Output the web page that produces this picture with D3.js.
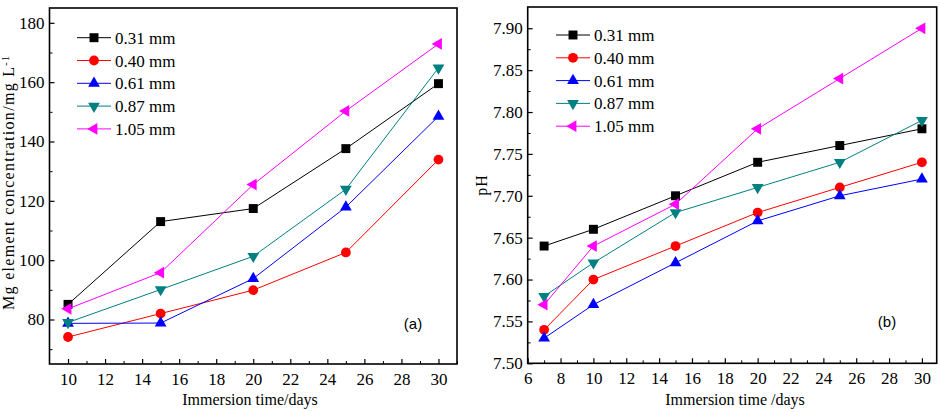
<!DOCTYPE html>
<html lang="en">
<meta charset="utf-8">
<head>
    <script src="https://d3js.org/d3.v7.min.js"></script>
</head>
<body style="margin:0; background:#fff;">
<svg width="940" height="412"></svg>
</body>

<script>
// legend labels / series names
var sizes = ["0.31 mm", "0.40 mm", "0.61 mm", "0.87 mm", "1.05 mm"];
var colors = ["#000000", "#ff0000", "#0000ff", "#008080", "#ff00ff"];

// panel (a) : Mg concentration
var daysA = [10, 15, 20, 25, 30];
var mg031 = [85.1, 113.0, 117.4, 137.6, 159.5];
var mg040 = [74.1, 82.0, 89.9, 102.6, 133.9];
var mg061 = [78.7, 78.8, 93.8, 117.9, 148.5];
var mg087 = [79.0, 90.1, 101.3, 123.9, 164.8];
var mg105 = [83.6, 95.8, 125.5, 150.3, 172.9];
var xTicksA = [10, 12, 14, 16, 18, 20, 22, 24, 26, 28, 30];
var yTicksA = [80, 100, 120, 140, 160, 180];

// panel (b) : pH
var daysB = [7, 10, 15, 20, 25, 30];
var ph031 = [7.64, 7.66, 7.70, 7.74, 7.76, 7.78];
var ph040 = [7.54, 7.60, 7.64, 7.68, 7.71, 7.74];
var ph061 = [7.53, 7.57, 7.62, 7.67, 7.70, 7.72];
var ph087 = [7.58, 7.62, 7.68, 7.71, 7.74, 7.79];
var ph105 = [7.57, 7.64, 7.69, 7.78, 7.84, 7.90];
var xTicksB = [6, 8, 10, 12, 14, 16, 18, 20, 22, 24, 26, 28, 30];
var yTicksB = [7.50, 7.55, 7.60, 7.65, 7.70, 7.75, 7.80, 7.85, 7.90];

var svg = d3.select("svg");
var serif = "'Liberation Serif', 'Times New Roman', serif";

// marker shapes for each series
var shapes = [
    { type: d3.symbolSquare, size: 80, rot: 0 },
    { type: d3.symbolCircle, size: 75, rot: 0 },
    { type: d3.symbolTriangle, size: 60, rot: 0 },
    { type: d3.symbolTriangle, size: 60, rot: 180 },
    { type: d3.symbolTriangle, size: 60, rot: -90 }
];

function marker(g, i, cx, cy) {
    g.append("path")
        .attr("d", d3.symbol().type(shapes[i].type).size(shapes[i].size)())
        .attr("transform", "translate(" + cx + "," + cy + ") rotate(" + shapes[i].rot + ")")
        .attr("fill", colors[i]);
}

function drawPanel(p) {
    var x = d3.scaleLinear().domain(p.xDomain).range([p.left, p.right]);
    var y = d3.scaleLinear().domain(p.yDomain).range([p.bottom, p.top]);
    var g = svg.append("g");

    // minor ticks
    g.append("g")
        .attr("transform", "translate(0," + p.bottom + ")")
        .call(d3.axisBottom(x).tickValues(p.xMinor).tickSize(-3).tickSizeOuter(0).tickFormat(""))
        .call(function(a) { a.select(".domain").remove(); });
    g.append("g")
        .attr("transform", "translate(" + p.left + ",0)")
        .call(d3.axisLeft(y).tickValues(p.yMinor).tickSize(-3).tickSizeOuter(0).tickFormat(""))
        .call(function(a) { a.select(".domain").remove(); });

    // major ticks + labels
    var xa = g.append("g")
        .attr("transform", "translate(0," + p.bottom + ")")
        .call(d3.axisBottom(x).tickValues(p.xTicks).tickSize(-5).tickSizeOuter(0).tickPadding(9));
    var ya = g.append("g")
        .attr("transform", "translate(" + p.left + ",0)")
        .call(d3.axisLeft(y).tickValues(p.yTicks).tickSize(-5).tickSizeOuter(0).tickPadding(5)
            .tickFormat(p.yFormat));
    [xa, ya].forEach(function(a) {
        a.select(".domain").remove();
        a.selectAll("line").attr("stroke", "#000").attr("stroke-width", 1.2);
        a.selectAll("text").attr("font-family", serif).attr("font-size", "17px").attr("fill", "#000");
    });

    // frame
    g.append("rect")
        .attr("x", p.left).attr("y", p.top)
        .attr("width", p.right - p.left).attr("height", p.bottom - p.top)
        .attr("fill", "none").attr("stroke", "#000").attr("stroke-width", 1.6);

    // series
    var line = d3.line().x(function(d) { return x(d[0]); }).y(function(d) { return y(d[1]); });
    p.series.forEach(function(vals, i) {
        var pts = p.days.map(function(d, j) { return [d, vals[j]]; });
        g.append("path").datum(pts)
            .attr("d", line)
            .attr("fill", "none")
            .attr("stroke", colors[i])
            .attr("stroke-width", 1);
        pts.forEach(function(d) { marker(g, i, x(d[0]), y(d[1])); });
    });

    // legend
    sizes.forEach(function(s, i) {
        var ly = p.legY + i * 22.8;
        g.append("line")
            .attr("x1", p.legX).attr("x2", p.legX + 34)
            .attr("y1", ly).attr("y2", ly)
            .attr("stroke", colors[i]).attr("stroke-width", 1);
        marker(g, i, p.legX + 17, ly);
        g.append("text")
            .attr("x", p.legX + 38).attr("y", ly + 6)
            .attr("font-family", serif).attr("font-size", "17px")
            .text(s);
    });

    // panel tag
    g.append("text")
        .attr("x", p.tagX).attr("y", p.tagY)
        .attr("text-anchor", "middle")
        .attr("font-family", "'Liberation Sans', Arial, sans-serif")
        .attr("font-size", "15px")
        .text(p.tag);

    // x title
    g.append("text")
        .attr("x", p.xTitleX).attr("y", 405)
        .attr("text-anchor", "middle")
        .attr("font-family", serif).attr("font-size", "16px")
        .text(p.xTitle);
}

var oddA = [];
for (var k = 11; k <= 31; k += 2) oddA.push(k);
var oddB = [];
for (var k2 = 7; k2 <= 29; k2 += 2) oddB.push(k2);

drawPanel({
    left: 49.5, right: 457, top: 8, bottom: 364,
    xDomain: [9, 31], yDomain: [65, 185],
    xTicks: xTicksA, yTicks: yTicksA,
    xMinor: oddA, yMinor: [70, 90, 110, 130, 150, 170],
    yFormat: d3.format("d"),
    days: daysA, series: [mg031, mg040, mg061, mg087, mg105],
    legX: 77, legY: 37.7,
    tag: "(a)", tagX: 413, tagY: 329,
    xTitle: "Immersion time/days", xTitleX: 250
});

drawPanel({
    left: 527.7, right: 936.7, top: 7, bottom: 363.3,
    xDomain: [6, 30.9], yDomain: [7.5, 7.9254],
    xTicks: xTicksB, yTicks: yTicksB,
    xMinor: oddB, yMinor: [7.525, 7.575, 7.625, 7.675, 7.725, 7.775, 7.825, 7.875],
    yFormat: d3.format(".2f"),
    days: daysB, series: [ph031, ph040, ph061, ph087, ph105],
    legX: 556, legY: 35,
    tag: "(b)", tagX: 887, tagY: 327,
    xTitle: "Immersion time /days", xTitleX: 735
});

// y axis titles
svg.append("text")
    .attr("transform", "translate(14,310) rotate(-90)")
    .attr("font-family", serif).attr("font-size", "16px")
    .attr("letter-spacing", "1.3px")
    .text("Mg element concentration/mg L")
    .append("tspan")
    .attr("dy", "-5")
    .attr("font-size", "10px")
    .text("-1");

svg.append("text")
    .attr("transform", "translate(487,185) rotate(-90)")
    .attr("text-anchor", "middle")
    .attr("font-family", serif).attr("font-size", "16px")
    .attr("letter-spacing", "1px")
    .text("pH");
</script>
